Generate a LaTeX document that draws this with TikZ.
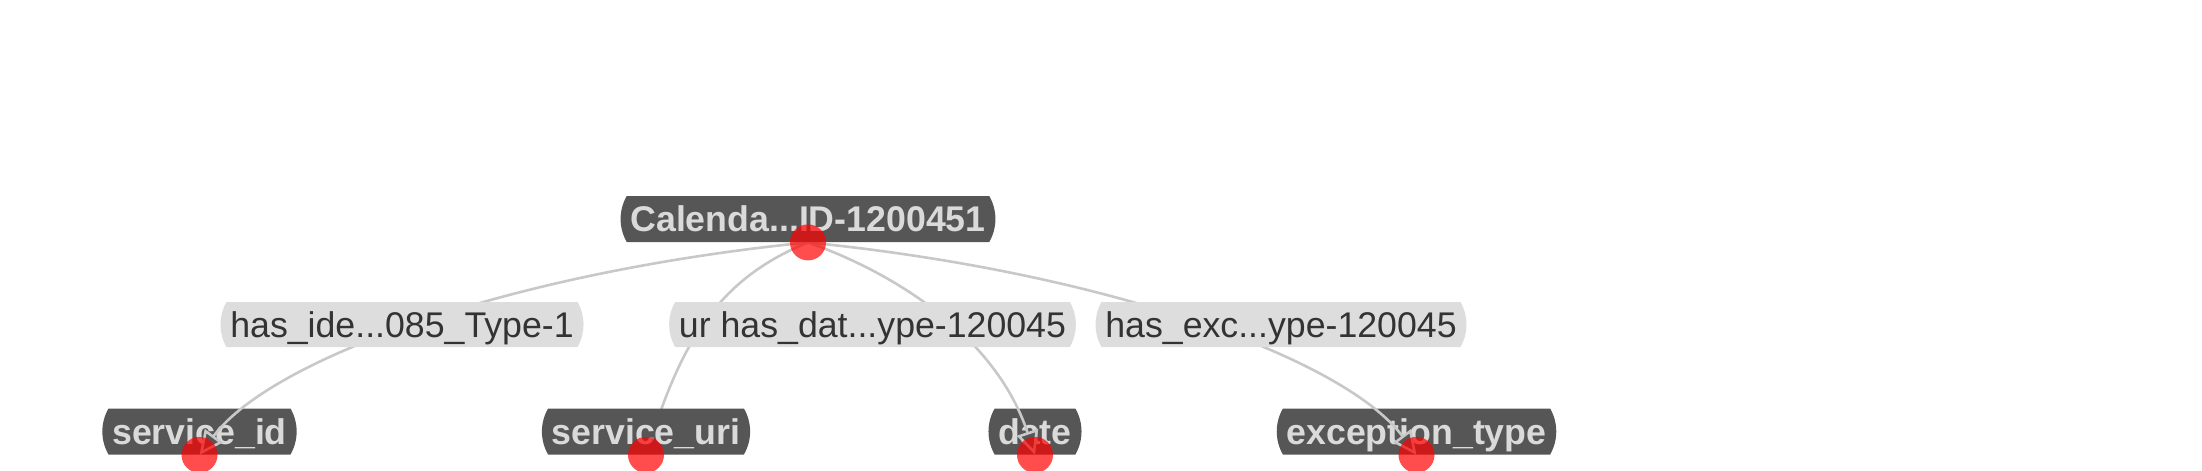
\documentclass[tikz,border=0pt]{standalone}
\usepackage{fontspec}
\setmainfont{Liberation Sans}
\usetikzlibrary{arrows.meta,shapes.misc}
\definecolor{ndgray}{HTML}{565656}
\definecolor{lbgray}{HTML}{DDDDDD}
\definecolor{lngray}{HTML}{C8C8C8}
\definecolor{ndtext}{HTML}{DADADA}
\definecolor{lbtext}{HTML}{333333}
\definecolor{dotred}{HTML}{FF0000}
\pgfdeclarelayer{back}
\pgfdeclarelayer{edges}
\pgfdeclarelayer{front}
\pgfsetlayers{back,edges,main,front}

\begin{document}
\begin{tikzpicture}[x=0.5pt,y=-0.5pt,
  ent/.style={rounded rectangle,rounded rectangle arc length=60,fill=ndgray,text=ndtext,
    font=\fontsize{17.85pt}{20pt}\selectfont\bfseries,minimum height=23pt,
    inner xsep=4pt,inner ysep=0pt,text height=12.8pt,text depth=0pt},
  rel/.style={ent,fill=lbgray,text=lbtext,font=\fontsize{17.85pt}{20pt}\selectfont,minimum height=22.5pt},
  hit/.style={circle,fill=dotred,fill opacity=.7,minimum size=18pt,inner sep=0pt},
  link/.style={draw=lngray,line width=1.3pt},
  tip/.style={-{Triangle[length=12pt,width=11pt,fill=ndgray]}}]
  \useasboundingbox (0,0) rectangle (2202,471);
  \begin{pgfonlayer}{back}
    \node[ent] (sid) at (199.5,431.5) {service\_id};
    \node[ent] (sdate) at (1035,431.5) {date};
    \node[ent] (exc) at (1416.5,431.5) {exception\_type};
  \end{pgfonlayer}
  \node[ent] (suri) at (646,431.5) {service\_uri};
  \node[ent] (cal) at (808,219) {Calenda...ID-1200451};
  \begin{pgfonlayer}{front}
    \node[hit] (caldot) at (cal.south) {};
    \node[hit] (siddot) at (sid.south) {};
    \node[hit] (uridot) at (suri.south) {};
    \node[hit] (datedot) at (sdate.south) {};
    \node[hit] (excdot) at (exc.south) {};
  \end{pgfonlayer}
  \begin{pgfonlayer}{edges}
    \draw[link,tip] (caldot.center) .. controls +(-300,30) and +(72,-96) .. (siddot.center);
    \draw[link,tip] (caldot.center) .. controls +(-83,34) and +(40,-123) .. (uridot.center);
    \draw[link,tip] (caldot.center) .. controls +(85,30) and +(-40,-120) .. (datedot.center);
    \draw[link,tip] (caldot.center) .. controls +(300,30) and +(-72,-96) .. (excdot.center);
  \end{pgfonlayer}
  \node[rel] (lid) at (402,324.5) {has\_ide...085\_Type-1};
  \node[rel] (ldate) at (872.5,324.5) {ur has\_dat...ype-120045};
  \node[rel] (lexc) at (1281,324.5) {has\_exc...ype-120045};
\end{tikzpicture}
\end{document}
